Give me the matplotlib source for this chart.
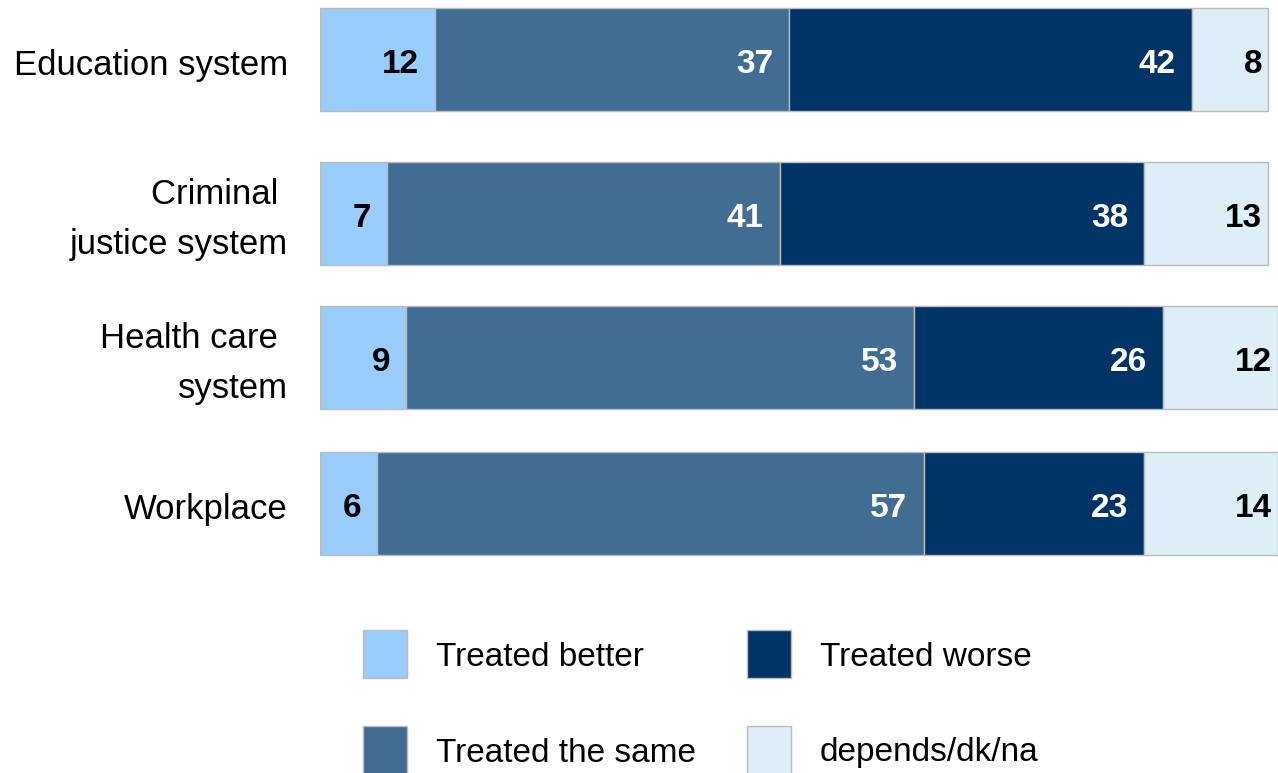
import matplotlib
matplotlib.use("Agg")
import matplotlib.pyplot as plt
from matplotlib.patches import Rectangle

plt.rcParams['font.family'] = ['Liberation Sans Narrow', 'Liberation Sans', 'DejaVu Sans']

categories = ["Education system", "Criminal \njustice system", "Health care \nsystem", "Workplace"]
series_names = ["Treated better", "Treated the same", "Treated worse", "depends/dk/na"]
better = [12, 7, 9, 6]
same = [37, 41, 53, 57]
worse = [42, 38, 26, 23]
depends = [8, 13, 12, 14]

colors = ["#99ccff", "#426d93", "#003366", "#ddeef6"]
text_colors = ["black", "white", "white", "black"]

W, H = 1278, 773
fig = plt.figure(figsize=(W / 100, H / 100), dpi=100)
ax = fig.add_axes([320 / W, 0, 958 / W, 1])

# bar centres in pixel rows from the top
ypos = [59.5, 213.5, 357.5, 503.5]
bar_h = 103

left = [0] * len(categories)
for k, vals in enumerate([better, same, worse, depends]):
    ax.barh(ypos, vals, left=left, height=bar_h, color=colors[k],
            edgecolor="#bbbbbb", linewidth=1)
    for i, v in enumerate(vals):
        end = left[i] + v
        off = -6 if k == 3 else -16
        ax.annotate(str(v), xy=(end, ypos[i]), xytext=(off, -5),
                    textcoords="offset pixels", ha="right", va="center",
                    fontsize=24, fontweight="bold", color=text_colors[k])
    left = [a + b for a, b in zip(left, vals)]

ax.set_xlim(0, 100)
ax.set_ylim(H, 0)
ax.axis("off")

for i, cat in enumerate(categories):
    fig.text(288 / W, 1 - (ypos[i] + 6) / H, cat, ha="right", va="center",
             fontsize=25, linespacing=1.65)

# legend blocks
legend_pos = [(363, 630), (363, 726), (747, 630), (747, 726)]
for (x, y), name, c in zip(legend_pos, series_names, colors):
    fig.patches.append(Rectangle((x / W, 1 - (y + 48) / H), 44 / W, 48 / H,
                                 transform=fig.transFigure, facecolor=c,
                                 edgecolor="#bbbbbb", linewidth=1))
    fig.text((x + 73) / W, 1 - (y + 27) / H, name, ha="left", va="center",
             fontsize=24)

fig.savefig("out.png", dpi=100)
